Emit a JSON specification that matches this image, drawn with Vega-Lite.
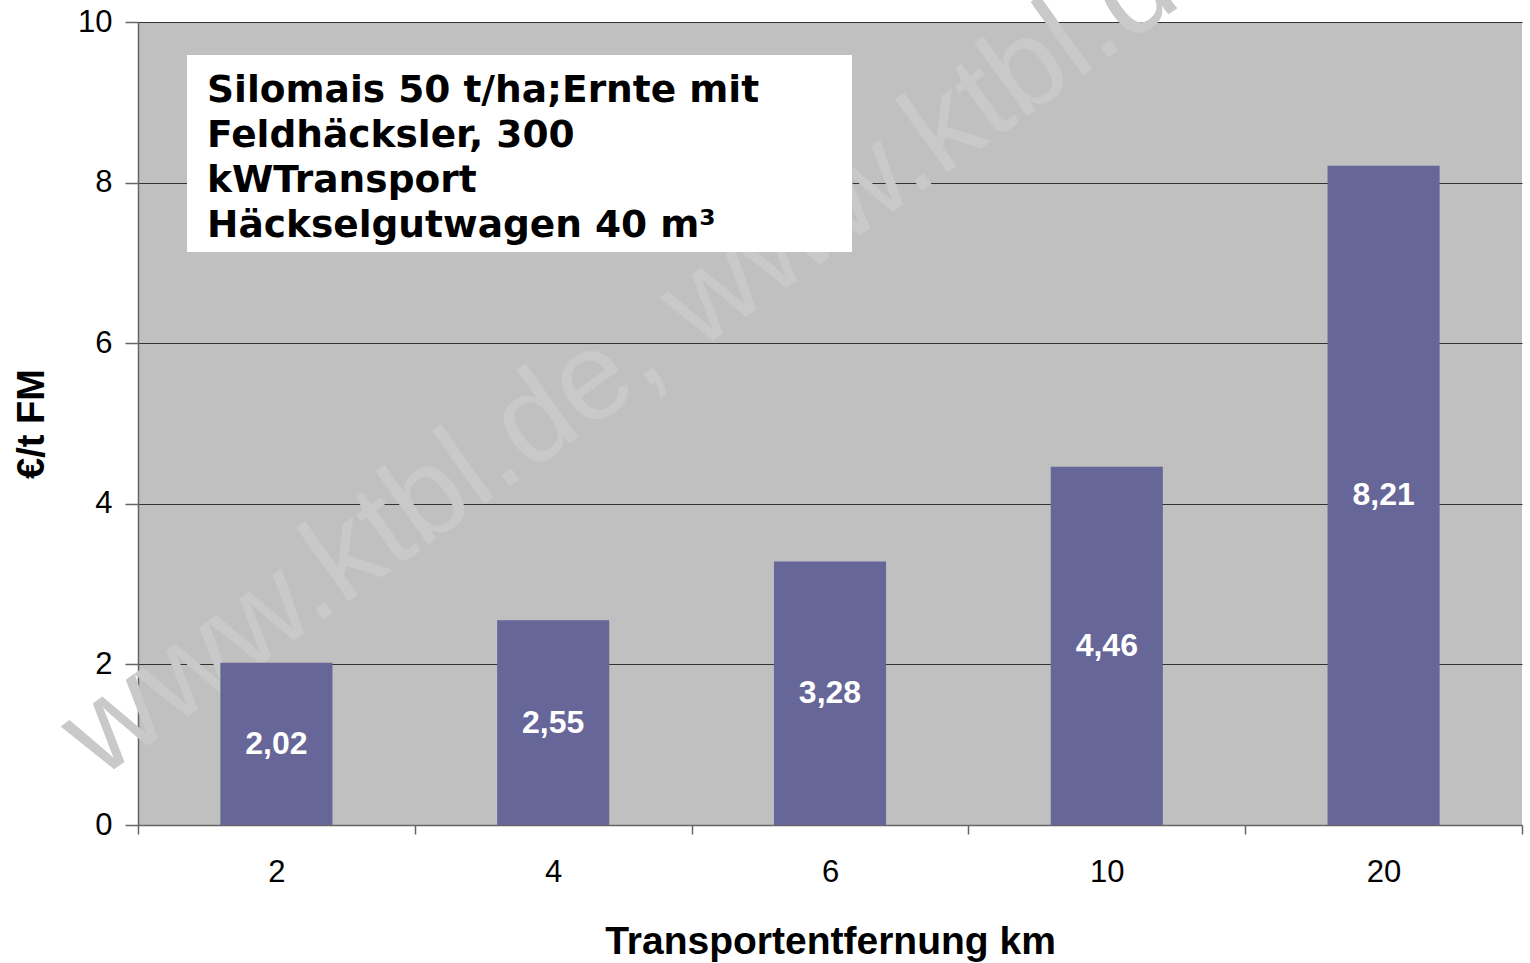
{
  "$schema": "https://vega.github.io/schema/vega-lite/v6.json",
  "width": 1384,
  "height": 803,
  "autosize": {"type": "none"},
  "padding": {"left": 138, "top": 22, "right": 8, "bottom": 138},
  "background": "white",
  "config": {
    "view": {"fill": "#C0C0C0", "stroke": null},
    "font": "Liberation Sans"
  },
  "datasets": {
    "bars": [
      {"km": "2", "value": 2.02, "label": "2,02"},
      {"km": "4", "value": 2.55, "label": "2,55"},
      {"km": "6", "value": 3.28, "label": "3,28"},
      {"km": "10", "value": 4.46, "label": "4,46"},
      {"km": "20", "value": 8.21, "label": "8,21"}
    ]
  },
  "resolve": {"scale": {"x": "independent", "y": "independent"}},
  "layer": [
    {
      "data": {"values": [{"x": -0.028, "y": 0.56, "t": "www.ktbl.de, www.ktbl.de"}]},
      "mark": {"type": "text", "angle": -35.6, "align": "left", "baseline": "alphabetic", "fontSize": 125, "font": "Liberation Sans", "color": "#c9c9c9"},
      "encoding": {
        "x": {"field": "x", "type": "quantitative", "scale": {"domain": [0, 1]}, "axis": null},
        "y": {"field": "y", "type": "quantitative", "scale": {"domain": [0, 10]}, "axis": null},
        "text": {"field": "t"}
      }
    },
    {
      "data": {"name": "bars"},
      "mark": {"type": "bar", "width": {"band": 0.405}, "color": "#666699"},
      "encoding": {
        "x": {
          "field": "km", "type": "ordinal", "sort": ["2", "4", "6", "10", "20"],
          "scale": {"paddingInner": 0, "paddingOuter": 0},
          "axis": {
            "title": "Transportentfernung km", "labelAngle": 0, "tickBand": "extent",
            "labelFont": "Liberation Sans", "labelFontSize": 31, "labelColor": "black",
            "labelPadding": 23, "tickSize": 9, "tickColor": "#666", "tickWidth": 1.5,
            "domainColor": "#666", "domainWidth": 1.5,
            "titleFont": "Liberation Sans", "titleFontSize": 39, "titleFontWeight": "bold",
            "titleColor": "black", "titlePadding": 35
          }
        },
        "y": {
          "field": "value", "type": "quantitative", "scale": {"domain": [0, 10]},
          "axis": {
            "title": "€/t FM", "values": [0, 2, 4, 6, 8, 10], "grid": true,
            "gridColor": "#333", "gridWidth": 1,
            "labelFont": "Liberation Sans", "labelFontSize": 31, "labelColor": "black",
            "labelPadding": 13, "tickSize": 13, "tickColor": "#666", "tickWidth": 1.5,
            "domainColor": "#666", "domainWidth": 1.5,
            "titleFont": "Liberation Sans", "titleFontSize": 38, "titleFontWeight": "bold",
            "titleColor": "black", "titlePadding": 26
          }
        }
      }
    },
    {
      "data": {"name": "bars"},
      "mark": {"type": "text", "color": "white", "fontWeight": "bold", "fontSize": 32, "font": "Liberation Sans", "baseline": "middle"},
      "encoding": {
        "x": {"field": "km", "type": "ordinal", "sort": ["2", "4", "6", "10", "20"], "scale": {"paddingInner": 0, "paddingOuter": 0}, "axis": null},
        "y": {"field": "value", "type": "quantitative", "scale": {"domain": [0, 20]}, "axis": null},
        "text": {"field": "label"}
      }
    },
    {
      "data": {"values": [{"x1": 0.0354, "x2": 0.5159, "y1": 7.136, "y2": 9.589}]},
      "mark": {"type": "rect", "color": "white"},
      "encoding": {
        "x": {"field": "x1", "type": "quantitative", "scale": {"domain": [0, 1]}, "axis": null},
        "x2": {"field": "x2"},
        "y": {"field": "y1", "type": "quantitative", "scale": {"domain": [0, 10]}, "axis": null},
        "y2": {"field": "y2"}
      }
    },
    {
      "data": {"values": [{"x": 0.0499, "y": 9.0, "t": ["Silomais 50 t/ha;Ernte mit", "Feldhäcksler, 300", "kWTransport", "Häckselgutwagen 40 m³"]}]},
      "mark": {"type": "text", "align": "left", "baseline": "alphabetic", "font": "DejaVu Sans", "fontWeight": "bold", "fontSize": 37.5, "lineHeight": 45, "color": "black"},
      "encoding": {
        "x": {"field": "x", "type": "quantitative", "scale": {"domain": [0, 1]}, "axis": null},
        "y": {"field": "y", "type": "quantitative", "scale": {"domain": [0, 10]}, "axis": null},
        "text": {"field": "t"}
      }
    }
  ]
}
